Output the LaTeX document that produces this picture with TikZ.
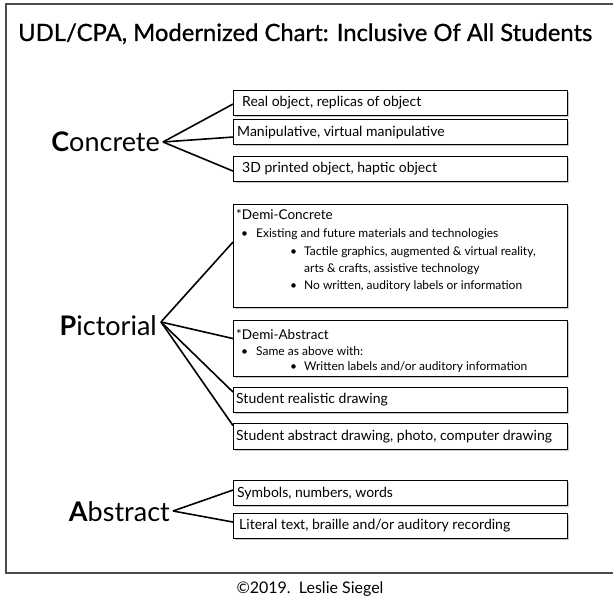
\documentclass[tikz,border=0pt]{standalone}
\usepackage{fontspec}
\setmainfont{Lato}
\newfontfamily\titlefont[FakeBold=0.8]{Lato}
\usetikzlibrary{shadows}
\begin{document}
\begin{tikzpicture}[x=1pt,y=-1pt,
  frame/.style={draw=black!70, line width=1.3pt},
  itembox/.style={draw=black, line width=1.1pt, fill=white, anchor=north west,
    minimum width=334pt, inner sep=0pt,
    drop shadow={shadow xshift=1pt, shadow yshift=-1pt, fill=black!35, opacity=0.6}},
  itemtext/.style={anchor=west, inner sep=0pt, font=\fontsize{14}{16}\selectfont},
  subtext/.style={anchor=base west, inner sep=0pt, font=\fontsize{12}{14}\selectfont},
  headtext/.style={anchor=base west, inner sep=0pt, font=\fontsize{13.5}{15}\selectfont},
  stage/.style={anchor=east, inner sep=0pt, font=\fontsize{27}{31}\selectfont},
  link/.style={draw=black, line width=1.6pt}
]
\useasboundingbox (0,0) rectangle (613,602);
\fill[white] (0,0) rectangle (613,602);

% outer frame (open on the right)
\draw[frame] (630,4) -- (6,4) -- (6,573) -- (630,573);

% title
\node[anchor=base west, inner sep=0pt, font=\titlefont\fontsize{23.8}{26}\selectfont] (title) at (18,41)
  {UDL/CPA, Modernized Chart: Inclusive Of All Students};

% ---------- Concrete ----------
\node[stage] (conc) at (160,142) {\textbf{C}oncrete};
\coordinate (concpt) at (163,142);
\node[itembox, minimum height=25pt] (c1) at (233,90) {};
\node[itemtext] at ([xshift=9pt]c1.west) {Real object, replicas of object};
\node[itembox, minimum height=25pt] (c2) at (233,119) {};
\node[itemtext] at ([xshift=4pt]c2.west) {Manipulative, virtual manipulative};
\node[itembox, minimum height=25pt] (c3) at (233,156) {};
\node[itemtext] at ([xshift=9pt]c3.west) {3D printed object, haptic object};
\draw[link] (concpt) -- ([yshift=-1pt]c1.west);
\draw[link] (concpt) -- ([yshift=-5pt]c2.west);
\draw[link] (concpt) -- ([yshift=-2pt]c3.west);

% ---------- Pictorial ----------
\node[stage] (pict) at (157,326) {\textbf{P}ictorial};
\coordinate (pictpt) at (161,322);
\node[itembox, minimum height=103pt] (p1) at (233,204) {};
\node[headtext] at (236,219) {*Demi-Concrete};
\node[subtext] at (241,237) {\textbullet};
\node[subtext] at (256,237) {Existing and future materials and technologies};
\node[subtext] at (290,255) {\textbullet};
\node[subtext] at (304,255) {Tactile graphics, augmented \& virtual reality,};
\node[subtext] at (304,272) {arts \& crafts, assistive technology};
\node[subtext] at (290,289) {\textbullet};
\node[subtext] at (304,289) {No written, auditory labels or information};

\node[itembox, minimum height=56pt] (p2) at (233,320) {};
\node[headtext] at (236,339) {*Demi-Abstract};
\node[subtext] at (241,355) {\textbullet};
\node[subtext] at (256,355) {Same as above with:};
\node[subtext] at (290,370) {\textbullet};
\node[subtext] at (304,370) {Written labels and/or auditory information};

\node[itembox, minimum height=25pt] (p3) at (233,387) {};
\node[itemtext] at ([xshift=3pt]p3.west) {Student realistic drawing};
\node[itembox, minimum height=26pt] (p4) at (233,423) {};
\node[itemtext] at ([xshift=3pt]p4.west) {Student abstract drawing, photo, computer drawing};

\draw[link] (pictpt) -- ([yshift=14pt]p1.west);
\draw[link] (pictpt) -- ([yshift=10pt]p2.west);
\draw[link] (pictpt) -- ([yshift=8pt]p3.west);
\draw[link] (pictpt) -- ([yshift=11pt]p4.west);

% ---------- Abstract ----------
\node[stage] (abst) at (170,512) {\textbf{A}bstract};
\coordinate (abstpt) at (173,511);
\node[itembox, minimum height=25pt] (a1) at (233,480) {};
\node[itemtext] at ([xshift=4pt]a1.west) {Symbols, numbers, words};
\node[itembox, minimum height=25pt] (a2) at (233,513) {};
\node[itemtext] at ([xshift=6pt]a2.west) {Literal text, braille and/or auditory recording};
\draw[link] (abstpt) -- ([yshift=3pt]a1.west);
\draw[link] (abstpt) -- ([yshift=4pt]a2.west);

% copyright line
\node[inner sep=0pt, font=\fontsize{16}{18}\selectfont] (credit) at (310,589) {©2019.\ \ Leslie Siegel};
\end{tikzpicture}
\end{document}
